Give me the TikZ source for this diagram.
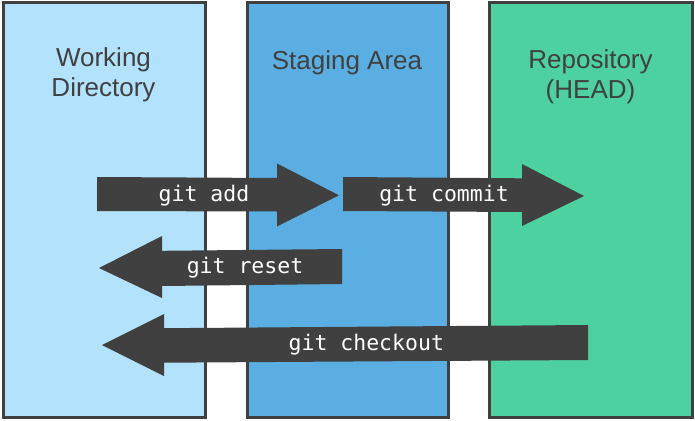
\documentclass[tikz,border=0pt]{standalone}
\usepackage{fontspec}
\setmainfont{Liberation Sans}
\newfontfamily\monofont{DejaVu Sans Mono}
\definecolor{wdcol}{HTML}{B3E2FD}
\definecolor{stcol}{HTML}{5AAEE2}
\definecolor{rpcol}{HTML}{4DD1A1}
\definecolor{dark}{HTML}{404040}
\tikzset{
  column/.style={draw=dark, line width=3pt},
  label/.style={text=dark, font=\fontsize{26}{30}\selectfont, align=center, anchor=base, inner sep=0pt},
  blockarrow/.style={fill=dark, draw=none},
  cmd/.style={text=white, font=\monofont\fontsize{21.5}{24}\selectfont, anchor=base, inner sep=0pt}
}
\begin{document}
\begin{tikzpicture}[x=1pt,y=-1pt]
\useasboundingbox (0,0) rectangle (695,420);
% columns
\draw[column, fill=wdcol] (3,3) rectangle (205.3,417.3);
\draw[column, fill=stcol] (247.2,3) rectangle (448.2,417.3);
\draw[column, fill=rpcol] (489.7,3) rectangle (692,417.3);
\node[label] (wd) at (103.5,96.7) {Working\\Directory};
\node[label] (st) at (347,70) {Staging Area};
\node[label] (rp) at (590.5,98) {Repository\\(HEAD)};
% block arrows
\fill[blockarrow] (97,177) -- (277,178) -- (277,163.5) -- (339,195.3) -- (277,226.5) -- (277,211.5) -- (97,211) -- cycle;
\fill[blockarrow] (343,177) -- (522,178.3) -- (522,164) -- (584,196) -- (522,226) -- (522,212) -- (343,211) -- cycle;
\fill[blockarrow] (342,249) -- (162,250.8) -- (162,236) -- (99,268) -- (162,298) -- (162,286) -- (342,284) -- cycle;
\fill[blockarrow] (588,325) -- (164,328.2) -- (164,314) -- (102,345) -- (164,376) -- (164,362.7) -- (588,360) -- cycle;
\node[cmd] (add) at (204,201) {git add};
\node[cmd] (commit) at (444,201) {git commit};
\node[cmd] (reset) at (245,273.3) {git reset};
\node[cmd] (checkout) at (366.3,350) {git checkout};
\end{tikzpicture}
\end{document}
